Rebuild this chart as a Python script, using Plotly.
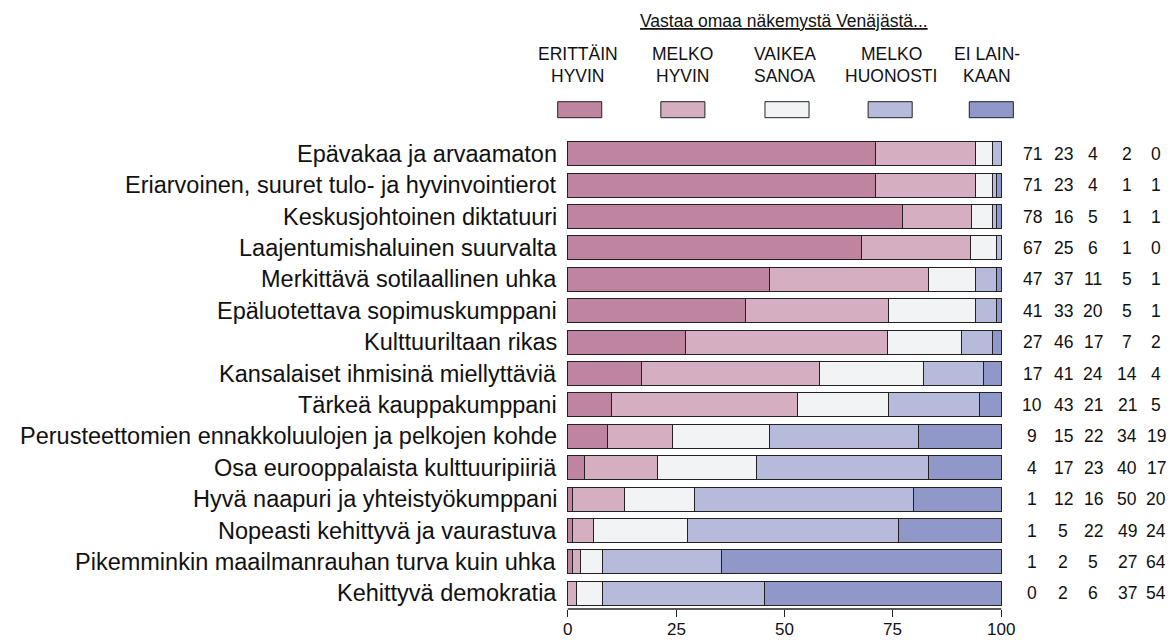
import plotly.graph_objects as go

categories = [
    "Epävakaa ja arvaamaton",
    "Eriarvoinen, suuret tulo- ja hyvinvointierot",
    "Keskusjohtoinen diktatuuri",
    "Laajentumishaluinen suurvalta",
    "Merkittävä sotilaallinen uhka",
    "Epäluotettava sopimuskumppani",
    "Kulttuuriltaan rikas",
    "Kansalaiset ihmisinä miellyttäviä",
    "Tärkeä kauppakumppani",
    "Perusteettomien ennakkoluulojen ja pelkojen kohde",
    "Osa eurooppalaista kulttuuripiiriä",
    "Hyvä naapuri ja yhteistyökumppani",
    "Nopeasti kehittyvä ja vaurastuva",
    "Pikemminkin maailmanrauhan turva kuin uhka",
    "Kehittyvä demokratia",
]
erittain_hyvin = [71, 71, 78, 67, 47, 41, 27, 17, 10, 9, 4, 1, 1, 1, 0]
melko_hyvin = [23, 23, 16, 25, 37, 33, 46, 41, 43, 15, 17, 12, 5, 2, 2]
vaikea_sanoa = [4, 4, 5, 6, 11, 20, 17, 24, 21, 22, 23, 16, 22, 5, 6]
melko_huonosti = [2, 1, 1, 1, 5, 5, 7, 14, 21, 34, 40, 50, 49, 27, 37]
ei_lainkaan = [0, 1, 1, 0, 1, 1, 2, 4, 5, 19, 17, 20, 24, 64, 54]

series_names = ["ERITTÄIN HYVIN", "MELKO HYVIN", "VAIKEA SANOA", "MELKO HUONOSTI", "EI LAINKAAN"]
legend_line1 = ["ERITTÄIN", "MELKO", "VAIKEA", "MELKO", "EI LAIN-"]
legend_line2 = ["HYVIN", "HYVIN", "SANOA", "HUONOSTI", "KAAN"]
legend_title = "Vastaa omaa näkemystä Venäjästä..."
x_ticks = [0, 25, 50, 75, 100]
colors = ["#BE84A0", "#D5AEC2", "#F2F3F5", "#B6BADB", "#8F98C9"]

series = [erittain_hyvin, melko_hyvin, vaikea_sanoa, melko_huonosti, ei_lainkaan]
totals = [sum(v) for v in zip(*series)]

FONT = "Liberation Sans, Arial, sans-serif"
OUT = "#222222"

fig = go.Figure()
for name, vals, col in zip(series_names, series, colors):
    fig.add_trace(go.Bar(
        y=categories,
        x=[100.0 * v / t for v, t in zip(vals, totals)],
        orientation="h",
        name=name,
        marker=dict(color=col, line=dict(color=OUT, width=1)),
        width=0.76,
        showlegend=False,
        hoverinfo="skip",
    ))

# Plot area geometry (pixels)
L, R, T, B = 566.3, 1002.7, 138.3, 609.3
W, H = 1170, 640


def px(xp):
    return (xp - L) / (R - L)


def py(yp):
    return (B - yp) / (B - T)


annotations = []
# category labels
for c in categories:
    annotations.append(dict(x=0, y=c, xref="x", yref="y", text=c, showarrow=False,
                            xanchor="right", xshift=-9,
                            font=dict(family=FONT, size=23.5, color="#111111")))
# value columns
col_shift = [31, 62, 92, 126, 155]
for vals, sh in zip(series, col_shift):
    for c, v in zip(categories, vals):
        annotations.append(dict(x=100, y=c, xref="x", yref="y", text=str(v), showarrow=False,
                                xanchor="center", xshift=sh,
                                font=dict(family=FONT, size=17.5, color="#111111")))
# x tick labels
for t in x_ticks:
    annotations.append(dict(x=t, y=py(630), xref="x", yref="paper", text=str(t),
                            showarrow=False, xanchor="center", yanchor="middle",
                            font=dict(family=FONT, size=17, color="#111111")))

# legend
sw_centers = [580, 683, 787, 890, 991]
lab_centers = [578, 683, 785, 891, 987]
annotations.append(dict(x=px(784), y=py(21), xref="paper", yref="paper",
                        text="<u>" + legend_title + "</u>", showarrow=False,
                        xanchor="center", yanchor="middle",
                        font=dict(family=FONT, size=17.5, color="#111111")))
shapes = []
for cx, lx, l1, l2, col in zip(sw_centers, lab_centers, legend_line1, legend_line2, colors):
    annotations.append(dict(x=px(lx), y=py(54), xref="paper", yref="paper", text=l1,
                            showarrow=False, xanchor="center", yanchor="middle",
                            font=dict(family=FONT, size=17.5, color="#111111")))
    annotations.append(dict(x=px(lx), y=py(76), xref="paper", yref="paper", text=l2,
                            showarrow=False, xanchor="center", yanchor="middle",
                            font=dict(family=FONT, size=17.5, color="#111111")))
    shapes.append(dict(type="rect", xref="paper", yref="paper",
                       x0=px(cx - 22), x1=px(cx + 22), y0=py(118), y1=py(102),
                       fillcolor=col, line=dict(color=OUT, width=1)))

# axis line
shapes.append(dict(type="line", xref="x", yref="paper", x0=0, x1=100, y0=0, y1=0,
                   line=dict(color=OUT, width=1.5)))

fig.update_layout(
    width=W, height=H,
    margin=dict(l=L, r=W - R, t=T, b=H - B, pad=0, autoexpand=False),
    barmode="stack",
    plot_bgcolor="white", paper_bgcolor="white",
    xaxis=dict(range=[-0.4, 100.4], tickvals=x_ticks, showticklabels=False,
               ticks="outside", ticklen=7, tickwidth=1, tickcolor=OUT,
               showline=False, showgrid=False, zeroline=False, automargin=False,
               fixedrange=True),
    yaxis=dict(categoryorder="array", categoryarray=categories, range=[14.5, -0.5],
               showticklabels=False, ticks="", showgrid=False, zeroline=False,
               showline=False, fixedrange=True, automargin=False),
    annotations=annotations,
    shapes=shapes,
    bargap=0.2,
)

fig.write_html("out.html", config={"displayModeBar": False},
               post_script="document.body.style.margin='0';document.body.style.overflow='hidden';")
